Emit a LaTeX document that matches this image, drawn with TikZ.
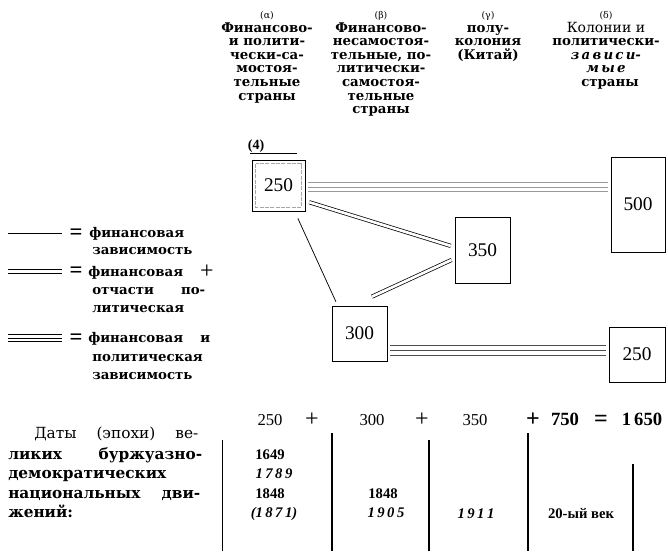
\documentclass[tikz,border=0pt]{standalone}
\usepackage{fontspec}
\setmainfont{Liberation Serif}
\newfontfamily\hfont{DejaVu Serif}
\usetikzlibrary{calc}
\tikzset{
  hdr/.style={inner sep=0, anchor=base, font=\hfont\bfseries\fontsize{10}{10}\selectfont},
  hdrlt/.style={inner sep=0, anchor=base, font=\hfont\fontsize{10.5}{10}\selectfont},
  hsm/.style={inner sep=0, anchor=base, font=\hfont\fontsize{7}{7}\selectfont},
  lgd/.style={inner sep=0, anchor=base west, font=\hfont\bfseries\fontsize{10}{10}\selectfont},
  eqs/.style={inner sep=0, anchor=base, font=\bfseries\fontsize{17}{17}\selectfont},
  bl/.style={inner sep=0, anchor=base west, font=\hfont\bfseries\fontsize{11.5}{10}\selectfont},
  blr/.style={inner sep=0, anchor=base west, font=\hfont\fontsize{11.5}{10}\selectfont},
  numbox/.style={draw, line width=0.6pt, inner sep=0, font=\fontsize{14.5}{14.5}\selectfont},
  sumtxt/.style={inner sep=0, anchor=base, font=\fontsize{12.5}{12.5}\selectfont},
  plus/.style={inner sep=0, anchor=base, font=\fontsize{18}{18}\selectfont},
  sumbf/.style={inner sep=0, anchor=base, font=\bfseries\fontsize{14}{14}\selectfont},
  bigbf/.style={inner sep=0, anchor=base, font=\bfseries\fontsize{18}{18}\selectfont},
  datetxt/.style={inner sep=0, anchor=base, font=\bfseries\fontsize{11}{11}\selectfont},
  dateit/.style={inner sep=0, anchor=base, font=\bfseries\itshape\fontsize{11}{11}\selectfont},
  lbl/.style={inner sep=0, anchor=base, font=\bfseries\fontsize{10.5}{10.5}\selectfont},
  sgl/.style={line width=0.55pt},
  dbl/.style={double, double distance=2pt, line width=0.55pt},
  hl/.style={line width=0.6pt},
  rule/.style={line width=0.9pt}
}
\begin{document}
\begin{tikzpicture}[x=0.75pt,y=-0.75pt]
\useasboundingbox (0,0) rectangle (668,551);

% ---------- column headers ----------
\node[hsm] (ha0) at (267,18) {(α)};
\foreach \t [count=\i] in {Финансово-,и полити-,чески-са-,мостоя-,тельные,страны}
  \node[hdr] (ha\i) at (267,{18.4+13.6*\i}) {\t};
\node[hsm] (hb0) at (381,18) {(β)};
\foreach \t [count=\i] in {Финансово-,несамостоя-,{тельные, по-},литически-,самостоя-,тельные,страны}
  \node[hdr] (hb\i) at (381,{18.4+13.6*\i}) {\t};
\node[hsm] (hg0) at (488,18) {(γ)};
\foreach \t [count=\i] in {полу-,колония,(Китай)}
  \node[hdr] (hg\i) at (488,{18.4+13.6*\i}) {\t};
\node[hsm] (hd0) at (606,18) {(δ)};
\node[hdrlt] (hd1) at (606,32) {Колонии и};
\node[hdr] (hd2) at (606,45.6) {политически-};
\node[hdr] (hd3) at (606,59.2) {\itshape з\,а\,в\,и\,с\,и-};
\node[hdr] (hd4) at (606,72.8) {\itshape м\,ы\,е};
\node[hdr] (hd5) at (610,86.4) {страны};

% ---------- boxes ----------
\node[lbl] (lab4) at (256,149) {(4)};
\node[numbox, minimum width=39.75pt, minimum height=38.25pt] (a) at (278.5,185.5) {250};
\draw[black!35, line width=0.4pt, dash pattern=on 3pt off 1pt] ([shift={(3pt,-3pt)}]a.north west) rectangle ([shift={(-3pt,3pt)}]a.south east);
\draw[line width=0.6pt] ([shift={(-1pt,4.5pt)}]a.north west) -- ([shift={(-6pt,4.5pt)}]a.north east);
\node[numbox, minimum width=40.5pt, minimum height=71.25pt] (e) at (638,204.5) {500};
\node[numbox, minimum width=41.25pt, minimum height=49.5pt] (c) at (482.5,250) {350};
\node[numbox, minimum width=41.25pt, minimum height=41.25pt] (d) at (359.5,333.5) {300};
\node[numbox, minimum width=42pt, minimum height=41.25pt] (f) at (637,354.5) {250};

% ---------- connectors ----------
\coordinate (ay) at ([yshift=-1.1pt]a.east);
\coordinate (ey) at (ay -| e.west);
\foreach \o in {-3.4pt,0pt,3.4pt}
  \draw[hl, black!40, shorten <=2pt, shorten >=2pt] ([yshift=\o]ay) -- ([yshift=\o]ey);
\draw[dbl, shorten <=3pt, shorten >=3pt] (a.-30) -- (c.174);
\draw[dbl, shorten <=16pt, shorten >=2.5pt] (d.104) -- (c.197.4);
\draw[sgl, shorten <=5.7pt, shorten >=3.2pt] (a.-58.6) -- (d.128);
\coordinate (fw) at ([yshift=3.4pt]f.west);
\coordinate (dw) at (fw -| d.east);
\foreach \o in {-3.75pt,0pt,3.75pt}
  \draw[hl, black!70, shorten <=2pt, shorten >=2pt] ([yshift=\o]dw) -- ([yshift=\o]fw);

% ---------- legend ----------
\coordinate (s1a) at (8,233);   \coordinate (s1b) at (62,233);
\coordinate (s2a) at (8,271);   \coordinate (s2b) at (62,271);
\coordinate (s3a) at (8,338);   \coordinate (s3b) at (62,338);
\draw[hl] (s1a) -- (s1b);
\foreach \o in {-1.5pt,1.5pt}
  \draw[hl] ([yshift=\o]s2a) -- ([yshift=\o]s2b);
\foreach \o in {-2.4pt,0pt,2.4pt}
  \draw[hl] ([yshift=\o]s3a) -- ([yshift=\o]s3b);
\node[eqs] (q1) at (76,239) {=};
\node[eqs] (q2) at (76,277) {=};
\node[eqs] (q3) at (76,344) {=};
\node[lgd] (g1) at (89,237) {финансовая};
\node[lgd] (g2) at (92,254) {зависимость};
\node[lgd] (g3) at (88,276) {финансовая};
\node[plus] (g3p) at (207,278) {+};
\node[lgd] (g4) at (92,294) {\makebox[84.75pt][s]{отчасти по-}};
\node[lgd] (g5) at (92,312) {литическая};
\node[lgd] (g6) at (88,342) {\makebox[91.5pt][s]{финансовая и}};
\node[lgd] (g7) at (92,361) {политическая};
\node[lgd] (g8) at (92,379) {зависимость};

% ---------- sum row ----------
\node[sumtxt] (n1) at (270,425) {250};
\node[plus] (p1) at (312,426) {+};
\node[sumtxt] (n2) at (372,425) {300};
\node[plus] (p2) at (422,426) {+};
\node[sumtxt] (n3) at (475,425) {350};
\node[bigbf] (p3) at (533,426) {+};
\node[sumbf] (n4) at (565,425) {750};
\node[bigbf] (eq) at (601,426) {=};
\node[sumbf] (n5) at (642,425) {1\,650};

% ---------- table rules ----------
\coordinate (v1t) at (222,440); \coordinate (v1b) at (222,551);
\coordinate (v2t) at (332,433); \coordinate (v2b) at (332,551);
\coordinate (v3t) at (429,440); \coordinate (v3b) at (429,551);
\coordinate (v4t) at (528,433); \coordinate (v4b) at (528,551);
\coordinate (v5t) at (633,464); \coordinate (v5b) at (633,551);
\draw[line width=0.5pt] (v1t) -- (v1b);
\draw[rule] (v2t) -- (v2b);
\draw[rule] (v3t) -- (v3b);
\draw[rule] (v4t) -- (v4b);
\draw[rule] (v5t) -- (v5b);

% ---------- dates text ----------
\node[blr] (t1) at (34,438) {\makebox[123pt][s]{Даты (эпохи) ве-}};
\node[bl] (t2) at (8,459) {\makebox[145.5pt][s]{ликих буржуазно-}};
\node[bl] (t3) at (8,478) {демократических};
\node[bl] (t4) at (8,498) {\makebox[144pt][s]{национальных дви-}};
\node[bl] (t5) at (8,517) {жений:};

\node[datetxt] (d1) at (270,459) {1649};
\node[dateit] (d2) at (274,478) {1\,7\,8\,9};
\node[datetxt] (d3) at (270,498) {1848};
\node[dateit] (d4) at (274,517) {(1\,8\,7\,1)};
\node[datetxt] (d5) at (383,498) {1848};
\node[dateit] (d6) at (386,517) {1\,9\,0\,5};
\node[dateit] (d7) at (476,518) {1\,9\,1\,1};
\node[inner sep=0, anchor=base, font=\bfseries\fontsize{11}{11}\selectfont] (d8) at (581,518) {20-ый век};
\end{tikzpicture}
\end{document}
